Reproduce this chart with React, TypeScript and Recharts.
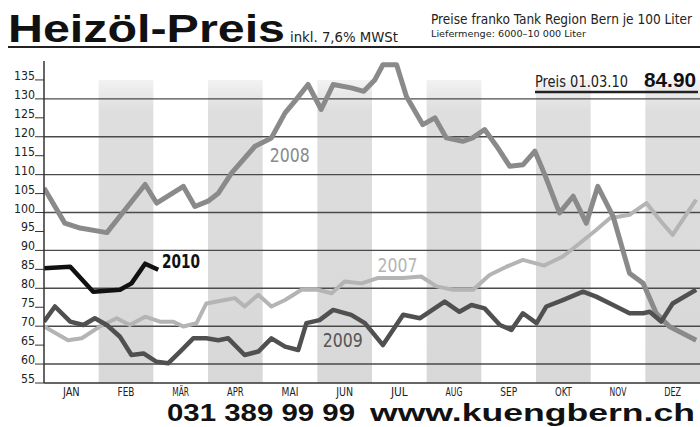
import { LineChart, Line, XAxis, YAxis, ReferenceArea, ReferenceLine, ReferenceDot } from "recharts";

const months = ["JAN", "FEB", "MÄR", "APR", "MAI", "JUN", "JUL", "AUG", "SEP", "OKT", "NOV", "DEZ"];
const monthTicks = [0.5, 1.5, 2.5, 3.5, 4.5, 5.5, 6.5, 7.5, 8.5, 9.5, 10.5, 11.5];
const shadedMonths = [1, 3, 5, 7, 9, 11];
const yTicks = [55, 60, 65, 70, 75, 80, 85, 90, 95, 100, 105, 110, 115, 120, 125, 130, 135];
const gridValues = [60, 70, 80, 90, 100, 110, 120, 130];

// positions in months (0 = 1. Jan), prices in CHF per 100 l
const pos2007 = [0, 0.44, 0.69, 1.02, 1.33, 1.57, 1.85, 2.12, 2.36, 2.55, 2.79, 2.97, 3.31, 3.49, 3.67, 3.92, 4.16, 4.41, 4.71, 5.01, 5.26, 5.5, 5.81, 6.1, 6.57, 6.9, 7.18, 7.48, 7.85, 8.15, 8.46, 8.76, 9.15, 9.49, 9.8, 10.1, 10.35, 10.71, 11.02, 11.26, 11.5, 11.93];
const val2007 = [69.9, 66.3, 66.8, 69.9, 72.1, 70.3, 72.5, 71.2, 71.2, 69.9, 70.8, 76, 76.9, 77.4, 75.2, 78.3, 75.2, 76.9, 79.6, 79.6, 78.7, 81.8, 81.3, 82.7, 82.7, 83.1, 80.5, 79.6, 79.6, 83.5, 85.7, 87.5, 86, 88.4, 91.9, 95.4, 98.5, 99.4, 102.5, 98.1, 94.1, 103.4];

const pos2008 = [0, 0.38, 0.66, 1.15, 1.85, 2.06, 2.55, 2.76, 3.0, 3.19, 3.43, 3.86, 4.16, 4.41, 4.59, 4.83, 5.07, 5.29, 5.62, 5.85, 6.05, 6.2, 6.45, 6.63, 6.93, 7.15, 7.36, 7.66, 7.84, 8.06, 8.28, 8.52, 8.76, 8.98, 9.16, 9.43, 9.68, 9.92, 10.13, 10.41, 10.71, 10.96, 11.2, 11.44, 11.93];
const val2008 = [106.5, 97.2, 95.9, 94.7, 107.4, 102.5, 106.9, 101.6, 103, 105.1, 110.4, 117.5, 119.7, 126.3, 129.4, 133.8, 127.2, 133.8, 132.9, 132, 135, 139, 139, 130.6, 123.2, 125, 119.7, 118.8, 119.7, 121.9, 117.5, 112.2, 112.6, 116.2, 110, 99.9, 104.3, 97.2, 106.9, 99, 84, 81.3, 73.4, 69.9, 66.3];

const pos2009 = [0, 0.2, 0.48, 0.72, 0.93, 1.15, 1.39, 1.6, 1.82, 2.06, 2.27, 2.49, 2.73, 2.97, 3.19, 3.37, 3.67, 3.92, 4.16, 4.41, 4.65, 4.8, 5.04, 5.29, 5.62, 5.87, 6.2, 6.57, 6.88, 7.33, 7.6, 7.82, 8.06, 8.34, 8.55, 8.76, 9.01, 9.19, 9.49, 9.86, 10.1, 10.41, 10.71, 10.96, 11.08, 11.29, 11.5, 11.93];
const val2009 = [71.2, 75.2, 71.2, 70.3, 72.1, 70.3, 67.2, 62.4, 62.8, 60.6, 60.2, 63.3, 66.8, 66.8, 66.3, 66.8, 62.4, 63.3, 66.8, 64.6, 63.7, 70.8, 71.6, 74.3, 73, 70.8, 65, 73, 72.1, 76.5, 73.8, 75.6, 74.7, 70.3, 69, 73.4, 70.8, 75.2, 76.9, 79.1, 77.8, 75.6, 73.4, 73.4, 73.8, 71.2, 76, 79.6];

const pos2010 = [0, 0.48, 0.9, 1.39, 1.6, 1.85, 2.09];
const val2010 = [85.3, 85.7, 79.1, 79.6, 81.3, 86.5, 84.9];

const seriesLabels = [
    { text: "2008", m: 4.13, v: 113.4, color: "#8a8a8a", weight: 400, width: 40 },
    { text: "2010", m: 2.16, v: 85.4, color: "#111", weight: 700, width: 38 },
    { text: "2007", m: 6.1, v: 84.3, color: "#b4b4b4", weight: 400, width: 40 },
    { text: "2009", m: 5.1, v: 64.5, color: "#555", weight: 400, width: 40 },
];

const toPoints = (pos: number[], val: number[]) => pos.map((m, i) => ({ m, v: val[i] }));

const narrow = "'DejaVu Sans Condensed', 'Liberation Sans Narrow', 'DejaVu Sans', sans-serif";
const grotesk = "'Liberation Sans', Arial, sans-serif";

function YTick(props: any) {
    const { x, y, payload } = props;
    return (
        <g>
            <line x1={x - 9} x2={x} y1={y} y2={y} stroke="#333" strokeWidth={1} />
            <text x={x - 9} y={y} textAnchor="end" fontSize={12} fontFamily={narrow} fill="#222"
                textLength={payload.value >= 100 ? 21 : 14} lengthAdjust="spacingAndGlyphs">
                {payload.value}
            </text>
        </g>
    );
}

function MonthTick(props: any) {
    const { x, y, payload } = props;
    const label = months[Math.floor(payload.value)];
    return (
        <text x={x} y={y + 11} textAnchor="middle" fontSize={11.5} fontFamily={narrow} fill="#222"
            textLength={label.length * 5.6} lengthAdjust="spacingAndGlyphs">
            {label}
        </text>
    );
}

export default function App() {
    return (
        <div style={{ position: "absolute", left: 0, top: 0, width: 700, height: 427, background: "#fff" }}>
            <LineChart width={700} height={427} margin={{ top: 61, right: 0, bottom: 0, left: 0 }}>
                <defs>
                    <linearGradient id="band" x1="0" y1="0" x2="0" y2="1">
                        <stop offset="0%" stopColor="#f2f2f2" />
                        <stop offset="10%" stopColor="#dedede" />
                        <stop offset="100%" stopColor="#d8d8d8" />
                    </linearGradient>
                </defs>
                <XAxis
                    type="number"
                    dataKey="m"
                    domain={[0, 12]}
                    ticks={monthTicks}
                    interval={0}
                    allowDataOverflow
                    height={44}
                    tickLine={false}
                    tickSize={0}
                    tickMargin={2}
                    axisLine={{ stroke: "#333", strokeWidth: 1.5 }}
                    tick={<MonthTick />}
                />
                <YAxis
                    type="number"
                    dataKey="v"
                    domain={[55, 140]}
                    ticks={yTicks}
                    interval={0}
                    allowDataOverflow
                    width={44}
                    tickLine={false}
                    tickSize={0}
                    tickMargin={0}
                    axisLine={{ stroke: "#333", strokeWidth: 1.5 }}
                    tick={<YTick />}
                />
                {shadedMonths.map((i) => (
                    <ReferenceArea key={i} x1={i} x2={i + 1} y1={55} y2={135} fill="url(#band)" fillOpacity={1} stroke="none" />
                ))}
                {gridValues.map((g) => (
                    <ReferenceLine key={g} y={g} stroke="#4a4a4a" strokeWidth={1.4} />
                ))}
                <Line data={toPoints(pos2007, val2007)} dataKey="v" type="linear" stroke="#b4b4b4" strokeWidth={4} dot={false} strokeLinejoin="round" isAnimationActive={false} />
                <Line data={toPoints(pos2008, val2008)} dataKey="v" type="linear" stroke="#8a8a8a" strokeWidth={5} dot={false} strokeLinejoin="round" isAnimationActive={false} />
                <Line data={toPoints(pos2009, val2009)} dataKey="v" type="linear" stroke="#505050" strokeWidth={4.5} dot={false} strokeLinejoin="round" isAnimationActive={false} />
                <Line data={toPoints(pos2010, val2010)} dataKey="v" type="linear" stroke="#111" strokeWidth={4.5} dot={false} strokeLinejoin="round" isAnimationActive={false} />
                {seriesLabels.map((s) => (
                    <ReferenceDot
                        key={s.text}
                        x={s.m}
                        y={s.v}
                        r={0}
                        shape={(p: any) => (
                            <text x={p.cx} y={p.cy} fontSize={19} fontWeight={s.weight} fill={s.color} fontFamily={narrow} textLength={s.width} lengthAdjust="spacingAndGlyphs">
                                {s.text}
                            </text>
                        )}
                    />
                ))}
            </LineChart>
            <svg width={700} height={427} style={{ position: "absolute", left: 0, top: 0, pointerEvents: "none" }}>
                <text x={8} y={42} fontFamily={grotesk} fontWeight={700} fontSize={39} textLength={277} lengthAdjust="spacingAndGlyphs" fill="#111">
                    Heizöl-Preis
                </text>
                <text x={290} y={42} fontFamily={narrow} fontSize={14} textLength={108} lengthAdjust="spacingAndGlyphs" fill="#222">
                    inkl. 7,6% MWSt
                </text>
                <g transform="translate(431,24) scale(0.75,1)">
                    <text x={0} y={0} fontFamily={narrow} fontSize={14.5} textLength={348} lengthAdjust="spacingAndGlyphs" fill="#222">
                        Preise franko Tank Region Bern je 100 Liter
                    </text>
                </g>
                <text x={431} y={37} fontFamily={narrow} fontSize={9} textLength={155} lengthAdjust="spacingAndGlyphs" fill="#222">
                    Liefermenge: 6000–10 000 Liter
                </text>
                <line x1={8} x2={700} y1={47} y2={47} stroke="#222" strokeWidth={2} />
                <text x={535} y={87} fontFamily={narrow} fontSize={15} textLength={93} lengthAdjust="spacingAndGlyphs" fill="#222">
                    Preis 01.03.10
                </text>
                <text x={644} y={87} fontFamily={grotesk} fontWeight={700} fontSize={21} textLength={52} lengthAdjust="spacingAndGlyphs" fill="#111">
                    84.90
                </text>
                <line x1={535} x2={698} y1={92} y2={92} stroke="#222" strokeWidth={2.5} />
                <text x={167} y={421} fontFamily={grotesk} fontWeight={700} fontSize={24} textLength={188} lengthAdjust="spacingAndGlyphs" fill="#111">
                    031 389 99 99
                </text>
                <text x={370} y={421} fontFamily={grotesk} fontWeight={700} fontSize={24} textLength={325} lengthAdjust="spacingAndGlyphs" fill="#111">
                    www.kuengbern.ch
                </text>
            </svg>
        </div>
    );
}
